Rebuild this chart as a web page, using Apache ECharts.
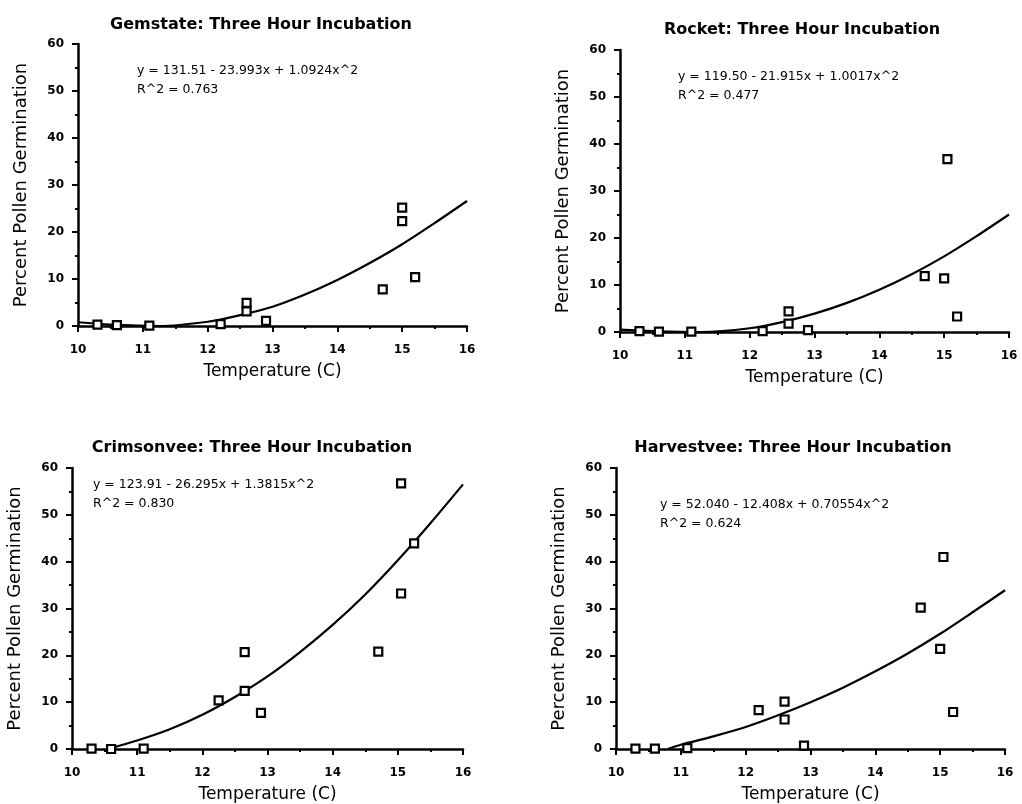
<!DOCTYPE html>
<html><head><meta charset="utf-8">
<script src="https://cdn.jsdelivr.net/npm/echarts@6/dist/echarts.min.js"></script>
<style>html,body{margin:0;padding:0;background:#fff}#c{width:1022px;height:804px}</style>
</head><body><div id="c"></div>
<script>
const titles = ['Gemstate: Three Hour Incubation','Rocket: Three Hour Incubation','Crimsonvee: Three Hour Incubation','Harvestvee: Three Hour Incubation'];
const equations = ['y = 131.51 - 23.993x + 1.0924x^2','y = 119.50 - 21.915x + 1.0017x^2','y = 123.91 - 26.295x + 1.3815x^2','y = 52.040 - 12.408x + 0.70554x^2'];
const rsq = ['R^2 = 0.763','R^2 = 0.477','R^2 = 0.830','R^2 = 0.624'];
const xTicks = [10,11,12,13,14,15,16];
const yTicks = [0,10,20,30,40,50,60];

// observed points [temperature, percent]
const gemX = [10.3,10.6,11.1,12.2,12.6,12.6,12.9,14.7,15.0,15.0,15.2];
const gemY = [0.3,0.2,0.1,0.4,3.1,4.9,1.1,7.8,22.3,25.2,10.4];
const rocX = [10.3,10.6,11.1,12.2,12.6,12.6,12.9,14.7,15.0,15.05,15.2];
const rocY = [0.2,0.1,0.1,0.2,1.8,4.4,0.4,11.9,11.4,36.8,3.3];
const criX = [10.3,10.6,11.1,12.25,12.65,12.65,12.9,14.7,15.05,15.05,15.25];
const criY = [0.1,0.0,0.1,10.4,12.4,20.7,7.7,20.8,33.2,56.7,43.9];
const harX = [10.3,10.6,11.1,12.2,12.6,12.6,12.9,14.7,15.0,15.05,15.2];
const harY = [0.1,0.1,0.2,8.3,6.3,10.1,0.7,30.2,21.4,41.0,7.9];

// fitted curves
const gemFitX = [10,10.5,11.25,12,12.5,13,13.5,14,14.5,15,15.5,16];
const gemFitY = [0.8,0.3,0,0.9,2.3,4.1,6.7,9.8,13.4,17.4,21.9,26.6];
const rocFitX = [10,10.5,11.25,12,12.5,13,13.5,14,14.5,15,15.5,16];
const rocFitY = [0.5,0.2,0,0.8,2.1,3.9,6.2,9.0,12.3,16.1,20.4,25.0];
const criFitX = [10.55,11,11.5,12,12.5,13,13.5,14,14.5,15,15.5,16];
const criFitY = [0,1.8,4.2,7.3,11.1,15.5,20.7,26.5,33.0,40.3,48.2,56.5];
const harFitX = [10.8,11,11.5,12,12.5,13,13.5,14,14.5,15,15.5,16];
const harFitY = [0,0.9,2.7,4.7,7.2,10.0,13.1,16.6,20.4,24.6,29.2,33.9];

const ptsX = [gemX,rocX,criX,harX], ptsY=[gemY,rocY,criY,harY];
const fitX = [gemFitX,rocFitX,criFitX,harFitX], fitY=[gemFitY,rocFitY,criFitY,harFitY];

const FONT = 'DejaVu Sans';
const grids = [
  {left:78, top:44, width:389, height:282},
  {left:620, top:50, width:389, height:282},
  {left:72, top:468, width:391, height:282},
  {left:616, top:468, width:389, height:282}
];
const titlePos = [[256,22],[797,27],[247,445],[788,445]];
const eqPos = [[137,71],[678,77],[93,485],[660,505]];

const zip=(a,b)=>a.map((v,i)=>[v,b[i]]);
const option = {
  animation:false,
  backgroundColor:'#fff',
  title: titles.map((t,i)=>({text:t, left:titlePos[i][0], top:titlePos[i][1]-10, textAlign:'center',
    textStyle:{fontFamily:FONT,fontSize:16,fontWeight:'bold',color:'#000'}})),
  grid: grids,
  xAxis: grids.map((g,i)=>({type:'value', gridIndex:i, min:10, max:16, interval:1,
    name:'Temperature (C)', nameLocation:'middle', nameGap:37,
    nameTextStyle:{fontFamily:FONT,fontSize:17,color:'#000'},
    axisLine:{show:true,onZero:false,lineStyle:{color:'#000',width:2.5}},
    axisTick:{show:true,length:6,lineStyle:{color:'#000',width:2}},
    minorTick:{show:true,splitNumber:2,length:3,lineStyle:{color:'#000',width:2}},
    splitLine:{show:false},
    axisLabel:{fontFamily:FONT,fontSize:12,fontWeight:'bold',color:'#000',margin:18,formatter:v=>String(v)}
  })),
  yAxis: grids.map((g,i)=>({type:'value', gridIndex:i, min:0, max:60, interval:10,
    name:'Percent Pollen Germination', nameLocation:'middle', nameGap:48,
    nameTextStyle:{fontFamily:FONT,fontSize:18,color:'#000'},
    axisLine:{show:true,onZero:false,lineStyle:{color:'#000',width:2.5}},
    axisTick:{show:true,length:6,lineStyle:{color:'#000',width:2}},
    minorTick:{show:true,splitNumber:2,length:3,lineStyle:{color:'#000',width:2}},
    splitLine:{show:false},
    axisLabel:{fontFamily:FONT,fontSize:12,fontWeight:'bold',color:'#000',margin:14}
  })),
  graphic: eqPos.map((p,i)=>[
    {type:'text', left:p[0], top:p[1]-7, style:{text:equations[i], font:'12.5px "'+FONT+'"', fill:'#000'}},
    {type:'text', left:p[0], top:p[1]+12, style:{text:rsq[i], font:'12.5px "'+FONT+'"', fill:'#000'}}
  ]).flat(),
  series: [].concat(
    fitX.map((fx,i)=>({type:'line', xAxisIndex:i, yAxisIndex:i, data:zip(fx,fitY[i]), smooth:0.3,
      showSymbol:false, lineStyle:{color:'#000',width:2.2,join:'round'}, z:3})),
    ptsX.map((px,i)=>({type:'scatter', xAxisIndex:i, yAxisIndex:i, data:zip(px,ptsY[i]), symbol:'rect',
      symbolSize:8, itemStyle:{color:'#fff',borderColor:'#000',borderWidth:2.2, opacity:1}, z:4}))
  )
};
echarts.init(document.getElementById('c')).setOption(option);
</script></body></html>
